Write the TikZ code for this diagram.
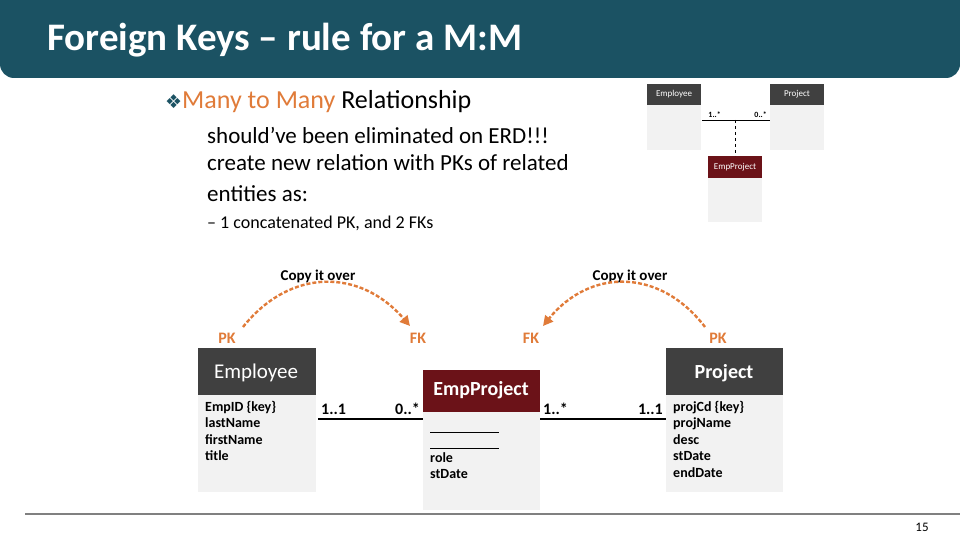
\documentclass[tikz,border=0pt]{standalone}
\usepackage{fontspec}
\setmainfont{Carlito}
\newfontfamily\djvfont{DejaVu Sans}
\usetikzlibrary{arrows.meta}
\definecolor{teal}{HTML}{1B5263}
\definecolor{orng}{HTML}{E07B39}
\definecolor{hdr}{HTML}{404040}
\definecolor{maroon}{HTML}{6B1218}
\definecolor{bodyc}{HTML}{F2F2F2}
\tikzset{
  lbl/.style={font=\bfseries\fontsize{16}{16}\selectfont},
  ork/.style={text=orng,font=\bfseries\fontsize{16}{16}\selectfont},
  arc/.style={orng,line width=2.4pt,dash pattern=on 4pt off 2pt,-{Triangle[length=10pt,width=10pt]}},
  attr/.style={font=\bfseries\fontsize{14}{16.5}\selectfont,align=left,anchor=north west,inner sep=0pt}
}
\begin{document}
\begin{tikzpicture}[x=1pt,y=-1pt]
\useasboundingbox (0,0) rectangle (960,540);
\fill[teal,rounded corners=14pt] (0,-20) rectangle (960,78);
\node[anchor=west,text=white,font=\bfseries\fontsize{39}{39}\selectfont,inner sep=0pt] (title) at (47,40) {Foreign Keys -- rule for a M:M};
\node[anchor=west,font=\fontsize{26}{26}\selectfont,inner sep=0pt] (b1) at (165,102) {{\djvfont\color{teal}\fontsize{19}{19}\selectfont ❖}\textcolor{orng}{Many to Many} Relationship};
\node[anchor=west,font=\fontsize{23}{23}\selectfont,inner sep=0pt] (b2) at (207,135) {should’ve been eliminated on ERD!!!};
\node[anchor=north west,align=left,font=\fontsize{23}{31}\selectfont,inner sep=0pt] (b3) at (207,154) {create new relation with PKs of related\\entities as:};
\node[anchor=west,font=\fontsize{18}{18}\selectfont,inner sep=0pt] (b4) at (207,223) {– 1 concatenated PK, and 2 FKs};
% small diagram
\fill[bodyc] (647,84) rectangle (701,150);
\fill[hdr] (647,84) rectangle (701,105);
\node[text=white,font=\fontsize{9}{9}\selectfont] (se) at (674,94.5) {Employee};
\fill[bodyc] (770,84) rectangle (824,150);
\fill[hdr] (770,84) rectangle (824,105);
\node[text=white,font=\fontsize{9}{9}\selectfont] (sp) at (797,94.5) {Project};
\fill[bodyc] (708,156) rectangle (762,222);
\fill[maroon] (708,156) rectangle (762,178);
\node[text=white,font=\fontsize{9}{9}\selectfont] (sep) at (735,167) {EmpProject};
\coordinate (sl) at (702,120); \coordinate (sr) at (770,120); \coordinate (sm) at (735,120);
\draw[line width=0.8pt] (sl) -- (sr);
\draw[dashed,line width=0.8pt] (sm) -- (735,156);
\node[anchor=south east,font=\bfseries\fontsize{8}{8}\selectfont,inner sep=1pt] at (722,119) {1..*};
\node[anchor=south east,font=\bfseries\fontsize{8}{8}\selectfont,inner sep=1pt] at (768,119) {0..*};
% big entities
\fill[bodyc] (198,395) rectangle (316,492);
\fill[hdr] (198,348) rectangle (316,395);
\node[text=white,font=\fontsize{21}{21}\selectfont] (E) at (256,373) {Employee};
\node[attr] (Ea) at (205,401) {EmpID \{key\}\\lastName\\firstName\\title};
\fill[bodyc] (423,412) rectangle (540,510);
\fill[maroon] (423,370) rectangle (540,412);
\node[text=white,font=\bfseries\fontsize{20}{20}\selectfont] (EP) at (481,390) {EmpProject};
\draw[line width=0.6pt] (430,432) -- (499,432);
\draw[line width=0.6pt] (430,448) -- (499,448);
\node[attr] (EPa) at (430,452) {role\\stDate};
\fill[bodyc] (666,395) rectangle (783,492);
\fill[hdr] (666,348) rectangle (783,395);
\node[text=white,font=\bfseries\fontsize{20}{20}\selectfont] (P) at (724,373) {Project};
\node[attr] (Pa) at (673,401) {projCd \{key\}\\projName\\desc\\stDate\\endDate};
\draw[line width=2pt] (318,419) coordinate (l1) -- (423,419) coordinate (l2);
\draw[line width=2pt] (540,419) coordinate (r1) -- (666,419) coordinate (r2);
\node[lbl,anchor=south west,inner sep=1pt] at (320,416) {1..1};
\node[lbl,anchor=south east,inner sep=1pt] at (421,416) {0..*};
\node[lbl,anchor=south west,inner sep=1pt] at (542,416) {1..*};
\node[lbl,anchor=south east,inner sep=1pt] at (664,416) {1..1};
% keys
\node[ork] (pk1) at (227,338) {PK};
\node[ork] (fk1) at (418,338) {FK};
\node[ork] (fk2) at (531,338) {FK};
\node[ork] (pk2) at (718,338) {PK};
\node[font=\bfseries\fontsize{15}{15}\selectfont] (c1) at (318,276) {Copy it over};
\node[font=\bfseries\fontsize{15}{15}\selectfont] (c2) at (630,276) {Copy it over};
\draw[arc] (243,327) .. controls (290,268) and (360,268) .. (410,326);
\draw[arc] (705,327) .. controls (660,268) and (590,268) .. (543,326);
% footer
\draw[gray,line width=1.5pt] (25,514) -- (960,514);
\node[font=\fontsize{13}{13}\selectfont] (pg) at (922,527) {15};
\end{tikzpicture}
\end{document}
